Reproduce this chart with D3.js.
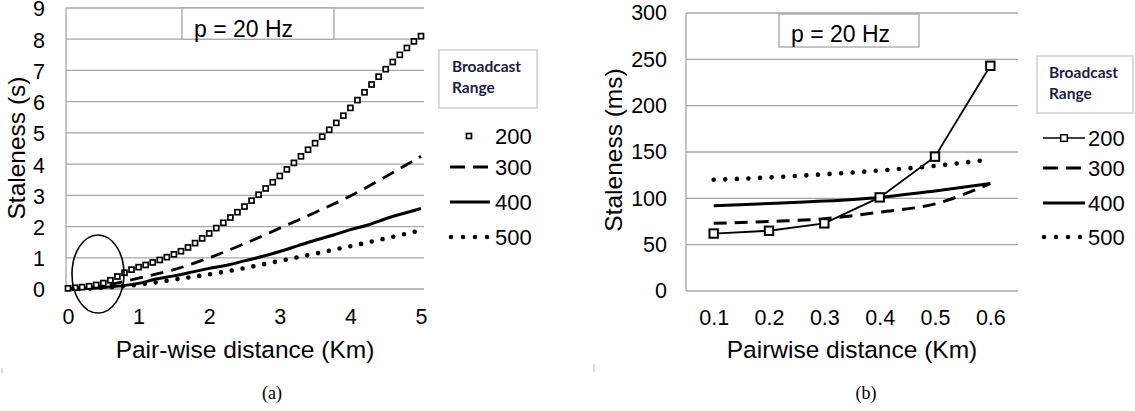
<!DOCTYPE html>
<html><head><meta charset="utf-8">
<script src="https://cdn.jsdelivr.net/npm/d3@7"></script>
<style>
body{margin:0;background:#fff}
svg text{font-family:"Liberation Sans",Arial,sans-serif;fill:#000}
</style>
</head><body>
<svg id="c" width="1135" height="411"></svg>
<script>
// ---------- DATA ----------
const seriesNames = ["200", "300", "400", "500"];

// chart (a): staleness (s) vs pair-wise distance (km)
const aX200 = [0,0.1,0.2,0.3,0.4,0.5,0.6,0.7,0.8,0.9,1,1.1,1.2,1.3,1.4,1.5,1.6,1.7,1.8,1.9,2,2.1,2.2,2.3,2.4,2.5,2.6,2.7,2.8,2.9,3,3.1,3.2,3.3,3.4,3.5,3.6,3.7,3.8,3.9,4,4.1,4.2,4.3,4.4,4.5,4.6,4.7,4.8,4.9,5];
const aY200 = [0.02,0.04,0.06,0.09,0.13,0.19,0.28,0.40,0.52,0.62,0.70,0.77,0.85,0.93,1.02,1.11,1.21,1.33,1.47,1.62,1.78,1.95,2.12,2.29,2.46,2.64,2.83,3.02,3.22,3.42,3.62,3.83,4.04,4.25,4.46,4.67,4.88,5.10,5.32,5.55,5.80,6.05,6.30,6.55,6.80,7.04,7.27,7.50,7.72,7.93,8.10];
const aX300 = [0,0.5,1,1.5,2,2.5,3,3.5,4,4.5,5];
const aY300 = [0,0.1,0.35,0.62,1.0,1.45,1.95,2.45,2.98,3.6,4.25];
const aX400 = [0,0.25,0.5,0.75,1,1.25,1.5,1.75,2,2.25,2.5,2.75,3,3.25,3.5,3.75,4,4.25,4.5,4.75,5];
const aY400 = [0,0.02,0.05,0.1,0.18,0.32,0.42,0.54,0.66,0.76,0.9,1.04,1.2,1.38,1.56,1.72,1.9,2.05,2.25,2.42,2.58];
const aX500 = [0,0.5,1,1.5,2,2.5,3,3.5,4,4.5,5];
const aY500 = [0,0.04,0.14,0.3,0.47,0.67,0.9,1.13,1.37,1.62,1.88];
const aXTicks = [0,1,2,3,4,5];
const aYTicks = [0,1,2,3,4,5,6,7,8,9];

// chart (b): staleness (ms) vs pairwise distance (km)
const bCats = ["0.1","0.2","0.3","0.4","0.5","0.6"];
const b200 = [62,65,73,101,145,243];
const b300 = [73,75,78,85,94,116];
const b400 = [92,94.5,97,101,108,116];
const b500 = [120,122.5,126,130,135,142];
const bYTicks = [0,50,100,150,200,250,300];

// ---------- DRAW ----------
const svg = d3.select("#c");
svg.append("rect").attr("width",1135).attr("height",411).attr("fill","#fff");
const GRID = "#a6a6a6";

const styles = {
  "300": {w:2.8, dash:"13 8", cap:"butt"},
  "400": {w:3, dash:null, cap:"butt"},
  "500": {w:4.6, dash:"0 11", cap:"round"}
};

function styleLine(p, s){
  p.attr("fill","none").attr("stroke","#000").attr("stroke-width",s.w)
   .attr("stroke-linecap",s.cap);
  if(s.dash) p.attr("stroke-dasharray",s.dash);
  return p;
}

// ===== Chart (a) =====
{
  const L=66, R=424, T=8, B=289;
  const x = d3.scaleLinear().domain([0,5]).range([68,421]);
  const y = d3.scaleLinear().domain([0,9]).range([B,T]);
  const g = svg.append("g");
  g.selectAll("line.grid").data(aYTicks).enter().append("line")
    .attr("x1",L).attr("x2",R).attr("y1",d=>y(d)).attr("y2",d=>y(d))
    .attr("stroke",GRID).attr("stroke-width",1.3);
  g.append("line").attr("x1",L).attr("x2",L).attr("y1",T).attr("y2",B)
    .attr("stroke",GRID).attr("stroke-width",1.3);
  g.append("rect").attr("x",182).attr("y",y(9)).attr("width",152).attr("height",y(8)-y(9))
    .attr("fill","#fff").attr("stroke",GRID).attr("stroke-width",1.3);
  g.append("text").attr("x",194).attr("y",36.5).attr("font-size",23).text("p = 20 Hz");

  const ya = d3.axisLeft(y).tickValues(aYTicks).tickSize(0).tickPadding(0);
  const yg = g.append("g").attr("transform","translate(45,1)").call(ya);
  yg.select(".domain").remove();
  yg.selectAll("text").attr("font-size",21.5).attr("font-family","Liberation Sans, Arial, sans-serif").attr("fill","#000");
  const xa = d3.axisBottom(x).tickValues(aXTicks).tickFormat(d3.format("d")).tickSize(0).tickPadding(0);
  const xg = g.append("g").attr("transform","translate(0,309)").call(xa);
  xg.select(".domain").remove();
  xg.selectAll("text").attr("font-size",21.5).attr("dy","0.71em").attr("font-family","Liberation Sans, Arial, sans-serif").attr("fill","#000");

  const mk = (xs,ys)=>xs.map((v,i)=>[v,ys[i]]);
  const line = d3.line().x(d=>x(d[0])).y(d=>y(d[1])).curve(d3.curveMonotoneX);
  styleLine(g.append("path").attr("d",line(mk(aX500,aY500))), styles["500"]);
  styleLine(g.append("path").attr("d",line(mk(aX400,aY400))), styles["400"]);
  styleLine(g.append("path").attr("d",line(mk(aX300,aY300))), styles["300"]);
  g.selectAll("rect.m").data(mk(aX200,aY200)).enter().append("rect").attr("class","m")
    .attr("x",d=>x(d[0])-2.5).attr("y",d=>y(d[1])-2.5).attr("width",5).attr("height",5)
    .attr("fill","#fff").attr("stroke","#000").attr("stroke-width",1.7);

  g.append("ellipse").attr("cx",98).attr("cy",274).attr("rx",26).attr("ry",39)
    .attr("fill","none").attr("stroke","#000").attr("stroke-width",1.6);

  g.append("text").attr("transform","translate(25,148) rotate(-90)").attr("text-anchor","middle")
    .attr("font-size",24.5).text("Staleness (s)");
  g.append("text").attr("x",245).attr("y",358).attr("text-anchor","middle")
    .attr("font-size",24.5).text("Pair-wise distance (Km)");
  g.append("text").attr("x",272).attr("y",399).attr("text-anchor","middle")
    .attr("font-size",18).style("font-family","'Liberation Serif','Times New Roman',serif").text("(a)");

  drawLegend(g, 439, 50, 98, 58, 452, 495, [136,167,202,237], 450, 490, false);
}

// ===== Chart (b) =====
{
  const L=686, R=1018, T=13, B=291;
  const x = d3.scalePoint().domain(bCats).range([L,R]).padding(0.5);
  const y = d3.scaleLinear().domain([0,300]).range([B,T]);
  const g = svg.append("g");
  g.selectAll("line.grid").data(bYTicks).enter().append("line")
    .attr("x1",L).attr("x2",R).attr("y1",d=>y(d)).attr("y2",d=>y(d))
    .attr("stroke",GRID).attr("stroke-width",1.3);
  g.append("line").attr("x1",L).attr("x2",L).attr("y1",T).attr("y2",B)
    .attr("stroke",GRID).attr("stroke-width",1.3);
  g.append("rect").attr("x",779).attr("y",14).attr("width",140).attr("height",33)
    .attr("fill","#fff").attr("stroke",GRID).attr("stroke-width",1.3);
  g.append("text").attr("x",791).attr("y",42).attr("font-size",23).text("p = 20 Hz");

  const ya = d3.axisLeft(y).tickValues(bYTicks).tickSize(0).tickPadding(0);
  const yg = g.append("g").attr("transform","translate(667,0)").call(ya);
  yg.select(".domain").remove();
  yg.selectAll("text").attr("font-size",21.5).attr("font-family","Liberation Sans, Arial, sans-serif").attr("fill","#000");
  const xa = d3.axisBottom(x).tickSize(0).tickPadding(0);
  const xg = g.append("g").attr("transform","translate(0,310)").call(xa);
  xg.select(".domain").remove();
  xg.selectAll("text").attr("font-size",21.5).attr("dy","0.71em").attr("font-family","Liberation Sans, Arial, sans-serif").attr("fill","#000");

  const smooth = d3.line().x((d,i)=>x(bCats[i])).y(d=>y(d)).curve(d3.curveMonotoneX);
  const straight = d3.line().x((d,i)=>x(bCats[i])).y(d=>y(d));
  styleLine(g.append("path").attr("d",smooth(b500)), {w:4.6,dash:"0 11.6",cap:"round"});
  styleLine(g.append("path").attr("d",smooth(b300)), {w:3,dash:"13 8",cap:"butt"});
  styleLine(g.append("path").attr("d",smooth(b400)), {w:3,dash:null,cap:"butt"});
  styleLine(g.append("path").attr("d",straight(b200)), {w:1.8,dash:null,cap:"butt"});
  g.selectAll("rect.m").data(b200).enter().append("rect").attr("class","m")
    .attr("x",(d,i)=>x(bCats[i])-4.2).attr("y",d=>y(d)-4.2).attr("width",8.4).attr("height",8.4)
    .attr("fill","#fff").attr("stroke","#000").attr("stroke-width",2);

  g.append("text").attr("transform","translate(622,150) rotate(-90)").attr("text-anchor","middle")
    .attr("font-size",24.5).text("Staleness (ms)");
  g.append("text").attr("x",852).attr("y",358).attr("text-anchor","middle")
    .attr("font-size",24.5).text("Pairwise distance (Km)");
  g.append("text").attr("x",866).attr("y",399).attr("text-anchor","middle")
    .attr("font-size",18).style("font-family","'Liberation Serif','Times New Roman',serif").text("(b)");

  drawLegend(g, 1037, 56, 96, 57, 1049, 1088, [138,168,203,237], 1043, 1085, true);
}

svg.append("line").attr("x1",2).attr("x2",2).attr("y1",368).attr("y2",373).attr("stroke","#bbb");
svg.append("line").attr("x1",594).attr("x2",594).attr("y1",364).attr("y2",372).attr("stroke","#bbb");

function drawLegend(g, bx, by, bw, bh, tx, lx, ys, s0, s1, withLine){
  g.append("rect").attr("x",bx).attr("y",by).attr("width",bw).attr("height",bh)
    .attr("fill","#fff").attr("stroke","#cfcfcf").attr("stroke-width",1.5);
  const t = g.append("text").attr("font-size",15.5).attr("font-weight","bold")
    .style("font-family","Lato, 'Open Sans', sans-serif").style("fill","#1c1c48");
  t.append("tspan").attr("x",tx).attr("y",by+22).text("Broadcast");
  t.append("tspan").attr("x",tx).attr("y",by+43).text("Range");
  seriesNames.forEach((name,i)=>{
    const yy = ys[i];
    g.append("text").attr("x",lx).attr("y",yy).attr("dy","0.36em").attr("font-size",22).text(name);
    if(name==="200"){
      const cx=(s0+s1)/2;
      if(withLine){
        g.append("line").attr("x1",s0).attr("x2",s1).attr("y1",yy).attr("y2",yy)
          .attr("stroke","#000").attr("stroke-width",1.6);
        g.append("rect").attr("x",cx-3.3).attr("y",yy-3.3).attr("width",6.6).attr("height",6.6)
          .attr("fill","#fff").attr("stroke","#000").attr("stroke-width",1.5);
      } else {
        g.append("rect").attr("x",cx-3.5).attr("y",yy-2.5).attr("width",5).attr("height",5)
          .attr("fill","#fff").attr("stroke","#000").attr("stroke-width",1.7);
      }
    } else {
      const s = name==="300" ? {w:3.2,dash:"15 8",cap:"butt"} : name==="400" ? {w:3.2,dash:null,cap:"butt"} : {w:4.6,dash:"0 12",cap:"round"};
      const x0 = name==="500" ? s0+1 : s0;
      styleLine(g.append("path").attr("d",`M${x0},${yy}L${s1},${yy}`), s);
    }
  });
}
</script>
</body></html>
